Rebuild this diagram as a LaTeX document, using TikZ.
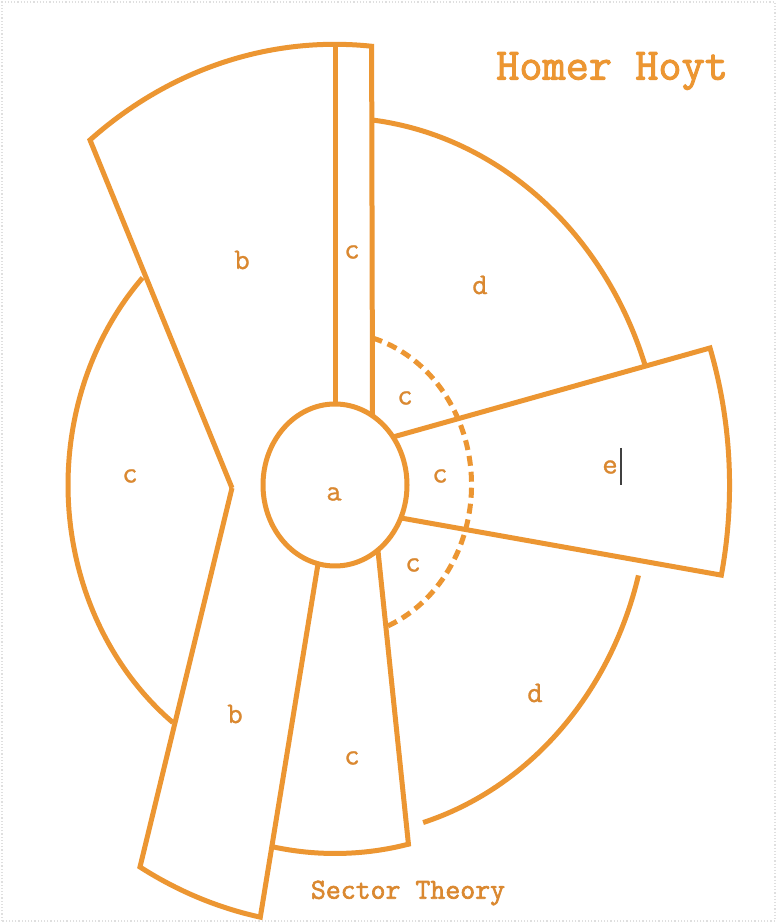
\documentclass[tikz,border=0pt]{standalone}
\usepackage{fontspec}
\newfontface\hoytlab[FakeBold=0.9]{Latin Modern Mono}
\newfontface\hoyttitle[FakeBold=2.2]{Latin Modern Mono}
\usetikzlibrary{calc}
\definecolor{hoyt}{RGB}{236,150,50}
\definecolor{hoyttext}{RGB}{218,136,48}
\tikzset{
  zone/.style={draw=hoyt, line width=5pt, line join=miter, line cap=butt},
  dashzone/.style={draw=hoyt, line width=5pt, dash pattern=on 10pt off 6pt},
  lab/.style={text=hoyttext, font=\hoytlab\fontsize{30}{30}\selectfont, inner sep=0pt},
  titlelab/.style={text=hoyt, font=\hoyttitle\fontsize{45}{45}\selectfont, inner sep=0pt}
}
\begin{document}
\begin{tikzpicture}[x=1pt,y=1pt]
\useasboundingbox (0,0) rectangle (777,923);
\fill[white] (0,0) rectangle (777,923);
\draw[gray!25, line width=1.2pt, dotted] (2,2) rectangle (775,921);
% key points
\coordinate (C) at (335,438);
\coordinate (B1) at (90,783);
\coordinate (N) at (232,435);
\coordinate (BL) at (140,56);
\coordinate (LBtop) at (318,359);
\coordinate (SLtop) at (335,878);
\coordinate (SLbot) at (335,518);
\coordinate (SRtop) at (372.5,876);
\coordinate (SRbot) at (372.5,507);
\coordinate (LCRtop) at (378,372);
\coordinate (LCRbot) at (408,80);
\coordinate (EU1) at (393,486);
\coordinate (EU2) at (710,575);
\coordinate (EL1) at (401,405);
\coordinate (EL2) at (722,348);
% upper b top arc and strip
\draw[zone] (N) -- (B1) arc[start angle=128.5, end angle=84.6, x radius=393, y radius=440.2] -- (SRbot);
\draw[zone] (SLtop) -- (SLbot);
% lower b
\draw[zone] (N) -- (BL) arc[start angle=240.2, end angle=259, x radius=393, y radius=440.2] -- (LBtop);
% lower c
\draw[zone] ($(C)+(258.8:329 and 368.5)$) arc[start angle=258.8, end angle=282.9, x radius=329, y radius=368.5] -- (LCRtop);
% left c arc
\draw[zone] ($(C)+(136.1:267 and 299)$) arc[start angle=136.1, end angle=232.6, x radius=267, y radius=299];
% upper d arc
\draw[zone] ($(C)+(83.3:328 and 367.4)$) arc[start angle=83.3, end angle=19.2, x radius=328, y radius=367.4];
% lower d arc
\draw[zone] ($(C)+(-14.9:314 and 351.7)$) arc[start angle=-14.9, end angle=-73.7, x radius=314, y radius=351.7];
% e sector
\draw[zone] (EU1) -- (EU2) arc[start angle=18.1, end angle=-11.7, x radius=395, y radius=442.4] -- (EL1);
% dashed c arc
\draw[dashzone] ($(C)+(74:136.5 and 152.9)$) arc[start angle=74, end angle=-67.5, x radius=136.5, y radius=152.9];
% central circle
\draw[zone, fill=white] (C) ellipse[x radius=72, y radius=81];
% labels
\node[titlelab, anchor=west] (title) at (496,852) {Homer Hoyt};
\node[lab] (lb1) at (242,663) {b};
\node[lab] (lc1) at (352,671) {c};
\node[lab] (ld1) at (480,638) {d};
\node[lab] (lc2) at (130,447) {c};
\node[lab] (la) at (334,429) {a};
\node[lab] (lc3) at (405,525) {c};
\node[lab] (lc4) at (440,447) {c};
\node[lab] (le) at (610,456) {e};
\node[lab] (lc5) at (413,358) {c};
\node[lab] (lb2) at (235,209) {b};
\node[lab] (ld2) at (535,230) {d};
\node[lab] (lc6) at (352,165) {c};
\node[lab, font=\hoyttitle\fontsize{29}{29}\selectfont] (sub) at (408,30) {Sector Theory};
% text cursor
\coordinate (cur1) at (621,475);
\coordinate (cur2) at (621,438);
\draw[black!75, line width=1.4pt] (cur1) -- (cur2);
\end{tikzpicture}
\end{document}
